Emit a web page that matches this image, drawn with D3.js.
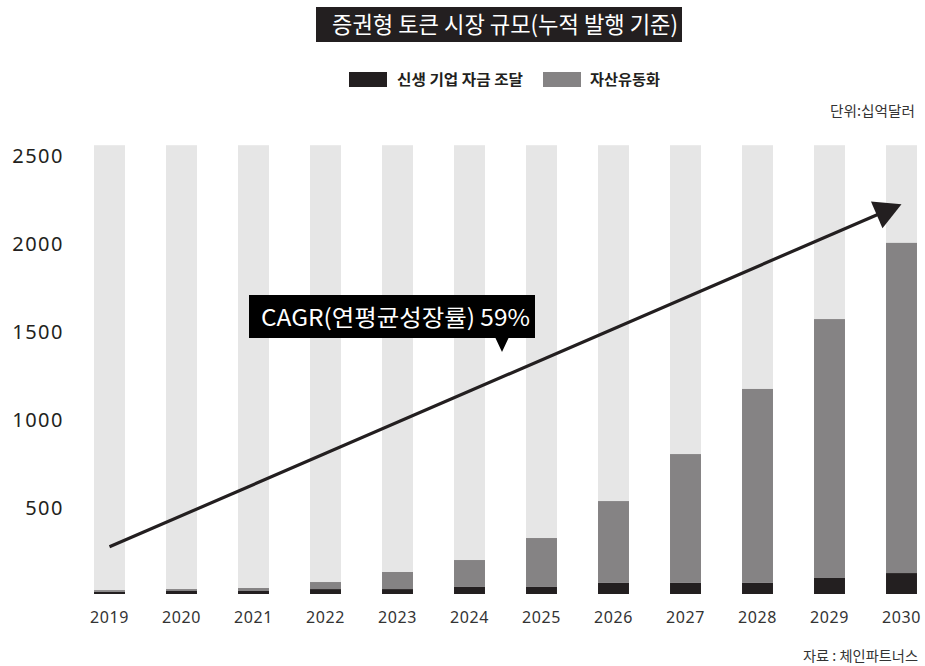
<!DOCTYPE html>
<html>
<head>
<meta charset="utf-8">
<script src="https://cdn.jsdelivr.net/npm/d3@7"></script>
<style>
  body { margin: 0; background: #fff; }
  text { font-family: "Noto Sans CJK KR", "Noto Sans", sans-serif; }
  .num { font-family: "Noto Sans", "DejaVu Sans", sans-serif; }
</style>
</head>
<body>
<div id="chart"></div>
<script>
var chart_width = 925;
var chart_height = 666;

// data (십억달러)
var years = ['2019','2020','2021','2022','2023','2024','2025','2026','2027','2028','2029','2030'];
var newFunding = [12, 17, 17, 28, 28, 40, 40, 63, 63, 63, 91, 119];          // 신생 기업 자금 조달
var assetLiquidity = [10, 11, 17, 40, 97, 153, 278, 465, 732, 1102, 1471, 1876]; // 자산유동화
var backgroundMax = 2550;
var yTicks = [500, 1000, 1500, 2000, 2500];
var seriesNames = ['신생 기업 자금 조달', '자산유동화'];
var arrowFrom = ['2019', 268];
var arrowTo = ['2030', 2215];

var colors = { black: '#231f20', gray: '#858384', light: '#e6e6e6' };

var rows = years.map(function(y, i) {
    return { year: y, funding: newFunding[i], liquidity: assetLiquidity[i] };
});

var svg = d3.select('#chart')
            .append('svg')
            .attr('width', chart_width)
            .attr('height', chart_height);

//Scales
var x_scale = d3.scaleBand()
                .domain(years)
                .range([73.5, 937.5])
                .paddingInner(0.57)
                .paddingOuter(0.285);

var y_scale = d3.scaleLinear()
                .domain([0, 2500])
                .range([594, 154]);

//Background bars
svg.selectAll('rect.bg')
    .data(years)
    .enter()
    .append('rect')
    .attr('class', 'bg')
    .attr('x', (d) => x_scale(d))
    .attr('width', x_scale.bandwidth())
    .attr('y', y_scale(backgroundMax))
    .attr('height', y_scale(0) - y_scale(backgroundMax))
    .attr('fill', colors.light);

//Stacked bars
var stack = d3.stack().keys(['funding', 'liquidity']);
var layers = stack(rows);
var layerColors = [colors.black, colors.gray];

svg.selectAll('g.layer')
    .data(layers)
    .enter()
    .append('g')
    .attr('class', 'layer')
    .attr('fill', (d, i) => layerColors[i])
    .selectAll('rect')
    .data((d) => d)
    .enter()
    .append('rect')
    .attr('x', (d) => x_scale(d.data.year))
    .attr('width', x_scale.bandwidth())
    .attr('y', (d) => y_scale(d[1]))
    .attr('height', (d) => y_scale(d[0]) - y_scale(d[1]));

//Axes
var y_axis = d3.axisLeft(y_scale)
               .tickValues(yTicks)
               .tickFormat(d3.format('d'))
               .tickSize(0)
               .tickPadding(0);
var yg = svg.append('g')
    .attr('transform', 'translate(64,2)')
    .call(y_axis);
yg.select('.domain').remove();
yg.selectAll('text')
    .attr('class', 'num')
    .attr('font-size', 20)
    .attr('letter-spacing', 1.5)
    .attr('fill', colors.black);

var x_axis = d3.axisBottom(x_scale).tickSize(0).tickPadding(0);
var xg = svg.append('g')
    .attr('transform', 'translate(0,612)')
    .call(x_axis);
xg.select('.domain').remove();
xg.selectAll('text')
    .attr('class', 'num')
    .attr('font-size', 16)
    .attr('letter-spacing', 0.6)
    .attr('fill', '#333');

//Arrow
var ax1 = x_scale(arrowFrom[0]) + x_scale.bandwidth() / 2,
    ay1 = y_scale(arrowFrom[1]),
    ax2 = x_scale(arrowTo[0]) + x_scale.bandwidth() / 2,
    ay2 = y_scale(arrowTo[1]);
var ang = Math.atan2(ay2 - ay1, ax2 - ax1);
var headLen = 27, headHalf = 14.5;
var bx = ax2 - headLen * Math.cos(ang), by = ay2 - headLen * Math.sin(ang);
svg.append('line')
    .attr('x1', ax1).attr('y1', ay1)
    .attr('x2', bx + 3 * Math.cos(ang)).attr('y2', by + 3 * Math.sin(ang))
    .attr('stroke', colors.black)
    .attr('stroke-width', 3.2);
svg.append('polygon')
    .attr('points', [
        [ax2, ay2],
        [bx + headHalf * Math.sin(ang), by - headHalf * Math.cos(ang)],
        [bx - headHalf * Math.sin(ang), by + headHalf * Math.cos(ang)]
    ].map((p) => p.join(',')).join(' '))
    .attr('fill', colors.black);

//CAGR callout
var callout = svg.append('g');
callout.append('rect')
    .attr('x', 249).attr('y', 295)
    .attr('width', 286).attr('height', 43)
    .attr('fill', '#000');
callout.append('polygon')
    .attr('points', '495,337 509,337 502,352')
    .attr('fill', '#000');
callout.append('text')
    .attr('x', 261).attr('y', 326)
    .attr('font-size', 23)
    .attr('textLength', 269)
    .attr('lengthAdjust', 'spacingAndGlyphs')
    .attr('fill', '#fff')
    .text('CAGR(연평균성장률) 59%');

//Title
svg.append('rect')
    .attr('x', 316).attr('y', 7)
    .attr('width', 366).attr('height', 35)
    .attr('fill', colors.black);
svg.append('text')
    .attr('x', 332).attr('y', 33)
    .attr('font-size', 23)
    .attr('textLength', 346)
    .attr('lengthAdjust', 'spacingAndGlyphs')
    .attr('fill', '#fff')
    .text('증권형 토큰 시장 규모(누적 발행 기준)');

//Legend
var legendX = [349, 543];
var legendTextX = [397, 590];
var legendTextW = [126, 70];
seriesNames.forEach((name, i) => {
    svg.append('rect')
        .attr('x', legendX[i]).attr('y', 72)
        .attr('width', 38).attr('height', 15)
        .attr('fill', layerColors[i]);
    svg.append('text')
        .attr('x', legendTextX[i]).attr('y', 85)
        .attr('font-size', 15)
        .attr('font-weight', 700)
        .attr('textLength', legendTextW[i])
        .attr('lengthAdjust', 'spacingAndGlyphs')
        .attr('fill', colors.black)
        .text(name);
});

//Unit + source
svg.append('text')
    .attr('x', 830).attr('y', 116)
    .attr('font-size', 14)
    .attr('textLength', 85)
    .attr('lengthAdjust', 'spacingAndGlyphs')
    .attr('fill', '#333')
    .text('단위:십억달러');

svg.append('text')
    .attr('x', 803).attr('y', 661)
    .attr('font-size', 14)
    .attr('textLength', 115)
    .attr('lengthAdjust', 'spacingAndGlyphs')
    .attr('fill', '#333')
    .text('자료 : 체인파트너스');
</script>
</body>
</html>
